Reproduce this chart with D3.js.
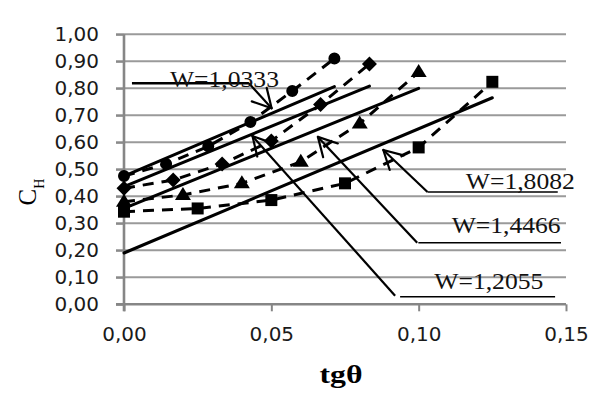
<!DOCTYPE html>
<html>
<head>
<meta charset="utf-8">
<script src="https://cdn.jsdelivr.net/npm/d3@7"></script>
<style>
  body { margin: 0; background: #fff; }
  svg { display: block; }
</style>
</head>
<body>
<div id="chart"></div>
<script>
// measured series (tgθ, C_H)
var circleX = [0, 0.0143, 0.0286, 0.0429, 0.0571, 0.0714];
var circleY = [0.475, 0.52, 0.585, 0.675, 0.79, 0.91];
var diamondX = [0, 0.0167, 0.0333, 0.05, 0.0667, 0.0833];
var diamondY = [0.43, 0.46, 0.52, 0.605, 0.74, 0.89];
var triangleX = [0, 0.02, 0.04, 0.06, 0.08, 0.10];
var triangleY = [0.38, 0.405, 0.448, 0.528, 0.67, 0.86];
var squareX = [0, 0.025, 0.05, 0.075, 0.10, 0.125];
var squareY = [0.343, 0.355, 0.386, 0.448, 0.581, 0.824];

// straight (calculated) lines: start at tgθ = 0
var fitStartY = [0.475, 0.436, 0.355, 0.19];
var fitEndX = [0.0714, 0.0833, 0.10, 0.125];
var fitEndY = [0.806, 0.808, 0.80, 0.765];

var xTicks = [0, 0.05, 0.10, 0.15];
var yTicks = [0, 0.1, 0.2, 0.3, 0.4, 0.5, 0.6, 0.7, 0.8, 0.9, 1.0];

var wLabels = ["W=1,0333", "W=1,8082", "W=1,4466", "W=1,2055"];

var w = 609, h = 408;
var svg = d3.select("#chart").append("svg")
    .attr("width", w)
    .attr("height", h);

var x = d3.scaleLinear().domain([0, 0.15]).range([124, 566]);
var y = d3.scaleLinear().domain([0, 1]).range([304.3, 34.3]);

var fmt = function (d) { return d.toFixed(2).replace(".", ","); };

// gridlines
svg.append("g")
    .selectAll("line")
    .data(yTicks.slice(1))
    .enter().append("line")
    .attr("x1", 116).attr("x2", 566)
    .attr("y1", d => y(d)).attr("y2", d => y(d))
    .attr("stroke", "#9a9a9a")
    .attr("stroke-width", 2);

// y axis
var yAxis = svg.append("g")
    .attr("transform", "translate(124,0)")
    .call(d3.axisLeft(y).tickValues(yTicks).tickFormat(fmt).tickSize(8).tickPadding(17));
yAxis.select(".domain").attr("stroke", "#868686").attr("stroke-width", 2.6)
    .attr("d", "M0," + y(1) + "V" + (y(0) + 7));
yAxis.selectAll(".tick line").attr("stroke", "#8a8a8a").attr("stroke-width", 2);
yAxis.selectAll("text")
    .style("font-family", "DejaVu Sans")
    .style("font-size", "20px")
    .attr("fill", "#1a1a1a");

// x axis
var xAxis = svg.append("g")
    .attr("transform", "translate(0," + y(0) + ")")
    .call(d3.axisBottom(x).tickValues(xTicks).tickFormat(fmt).tickSize(7).tickPadding(16));
xAxis.select(".domain").attr("stroke", "#868686").attr("stroke-width", 2.6)
    .attr("d", "M116,0H" + x(0.15));
xAxis.selectAll(".tick line").attr("stroke", "#868686").attr("stroke-width", 2);
xAxis.selectAll("text")
    .style("font-family", "DejaVu Sans")
    .style("font-size", "20px")
    .attr("fill", "#1a1a1a");

// axis titles
svg.append("text")
    .attr("x", x(0.075) - 4)
    .attr("y", 383)
    .attr("text-anchor", "middle")
    .attr("textLength", 43)
    .attr("lengthAdjust", "spacingAndGlyphs")
    .style("font-family", "Liberation Serif")
    .style("font-weight", "bold")
    .style("font-size", "26px")
    .text("tgθ");

var yTitle = svg.append("text")
    .attr("transform", "translate(36,192) rotate(-90)")
    .attr("text-anchor", "middle")
    .style("font-family", "Liberation Serif")
    .style("font-size", "25px");
yTitle.append("tspan").text("C");
yTitle.append("tspan").attr("dy", 8).style("font-size", "14px").text("H");

// dashed experimental series
var series = [
    { xs: circleX, ys: circleY, shape: "circle" },
    { xs: diamondX, ys: diamondY, shape: "diamond" },
    { xs: triangleX, ys: triangleY, shape: "triangle" },
    { xs: squareX, ys: squareY, shape: "square" }
];

var line = d3.line().x(d => x(d[0])).y(d => y(d[1]));

series.forEach(function (s) {
    var pts = s.xs.map((v, i) => [v, s.ys[i]]);
    svg.append("path")
        .attr("d", line(pts))
        .attr("fill", "none")
        .attr("stroke", "#000")
        .attr("stroke-width", 3)
        .attr("stroke-dasharray", "11,8");

    var g = svg.append("g");
    var sel = g.selectAll("path").data(pts).enter().append("path")
        .attr("fill", "#000")
        .attr("transform", d => "translate(" + x(d[0]) + "," + y(d[1]) + ")");
    if (s.shape === "circle") sel.attr("d", d3.symbol().type(d3.symbolCircle).size(113)());
    if (s.shape === "square") sel.attr("d", "M-6,-6H6V6H-6Z");
    if (s.shape === "diamond") sel.attr("d", "M0,-7.5L7.5,0L0,7.5L-7.5,0Z");
    if (s.shape === "triangle") sel.attr("d", "M0,-8L8,5L-8,5Z");
});

// solid calculated lines
svg.append("g")
    .selectAll("line")
    .data(fitStartY)
    .enter().append("line")
    .attr("x1", x(0))
    .attr("y1", d => y(d))
    .attr("x2", (d, i) => x(fitEndX[i]))
    .attr("y2", (d, i) => y(fitEndY[i]))
    .attr("stroke", "#000")
    .attr("stroke-width", 3)
    .attr("stroke-linecap", "round");

// annotations: leader line from label corner to arrow tip (data coords)
var notes = [
    { text: wLabels[0], tx: 0.0156, ty: 0.804, ux1: 0.0027, ux2: 0.0424, uy: 0.8185, bx: 0.0424, by: 0.8185, tipX: 0.0501, tipY: 0.726, uw: 2.5 },
    { text: wLabels[1], tx: 0.116, ty: 0.427, ux1: 0.103, ux2: 0.1472, uy: 0.416, bx: 0.103, by: 0.416, tipX: 0.088, tipY: 0.5715, uw: 1.6 },
    { text: wLabels[2], tx: 0.1112, ty: 0.263, ux1: 0.0999, ux2: 0.1483, uy: 0.228, bx: 0.0995, by: 0.228, tipX: 0.0658, tipY: 0.62, uw: 1.6 },
    { text: wLabels[3], tx: 0.1053, ty: 0.0556, ux1: 0.0937, ux2: 0.1463, uy: 0.028, bx: 0.0920, by: 0.032, tipX: 0.0436, tipY: 0.623, uw: 1.6 }
];

notes.forEach(function (n) {
    svg.append("line")
        .attr("x1", x(n.ux1)).attr("x2", x(n.ux2))
        .attr("y1", y(n.uy)).attr("y2", y(n.uy))
        .attr("stroke", "#000").attr("stroke-width", n.uw);

    var x0 = x(n.bx), y0 = y(n.by), x1 = x(n.tipX), y1 = y(n.tipY);
    svg.append("line")
        .attr("x1", x0).attr("y1", y0).attr("x2", x1).attr("y2", y1)
        .attr("stroke", "#000").attr("stroke-width", 2.2);

    // open arrowhead
    var ang = Math.atan2(y0 - y1, x0 - x1);
    [-0.5, 0.5].forEach(function (da) {
        svg.append("line")
            .attr("x1", x1).attr("y1", y1)
            .attr("x2", x1 + 21 * Math.cos(ang + da))
            .attr("y2", y1 + 21 * Math.sin(ang + da))
            .attr("stroke", "#000").attr("stroke-width", 2.2)
            .attr("stroke-linecap", "round");
    });

    svg.append("text")
        .attr("x", x(n.tx))
        .attr("y", y(n.ty))
        .attr("textLength", 109)
        .attr("lengthAdjust", "spacingAndGlyphs")
        .style("font-family", "Liberation Serif")
        .style("font-size", "23px")
        .attr("fill", "#111")
        .text(n.text);
});
</script>
</body>
</html>
